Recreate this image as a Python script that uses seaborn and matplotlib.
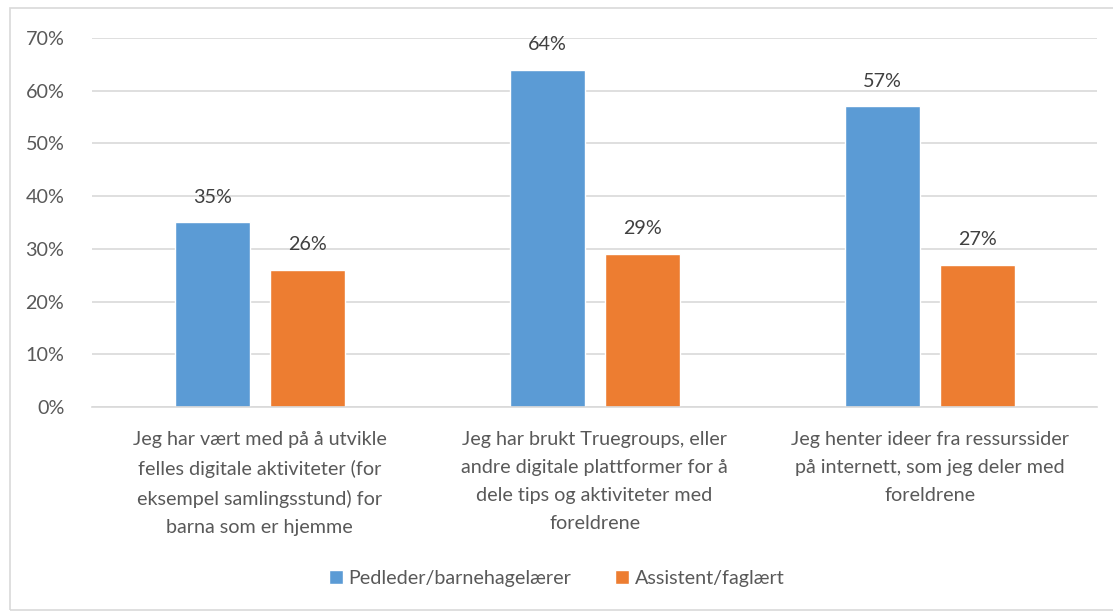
import numpy as np
import pandas as pd
import matplotlib
matplotlib.use("Agg")
import matplotlib.pyplot as plt
import seaborn as sns
from matplotlib.patches import Rectangle

# -----------------------------------
# Data
# -----------------------------------
categories = [
    "Jeg har vært med på å utvikle\nfelles digitale aktiviteter (for\neksempel samlingsstund) for\nbarna som er hjemme",
    "Jeg har brukt Truegroups, eller\nandre digitale plattformer for å\ndele tips og aktiviteter med\nforeldrene",
    "Jeg henter ideer fra ressurssider\npå internett, som jeg deler med\nforeldrene",
]
groups = ["Pedleder/barnehagelærer", "Assistent/faglært"]
pedleder = [0.35, 0.64, 0.57]
assistent = [0.26, 0.29, 0.27]

df = pd.DataFrame({
    "Kategori": categories * 2,
    "Gruppe": [groups[0]] * 3 + [groups[1]] * 3,
    "Andel": pedleder + assistent,
})

sns.set_theme(style="white")
plt.rcParams["font.family"] = ["Lato", "DejaVu Sans"]
grey = "#595959"
fs = 14.2

fig = plt.figure(figsize=(11.13, 6.12), dpi=100)
ax = fig.add_axes([0.0827, 0.335, 0.903, 0.603])

sns.barplot(
    data=df, x="Kategori", y="Andel", hue="Gruppe",
    palette=["#5B9BD5", "#ED7D31"], width=0.567, gap=0.21,
    ax=ax, legend=True, saturation=1,
)

ax.set_ylim(0, 0.7)
ticks = np.arange(0, 0.71, 0.1)
ax.set_yticks(ticks)
ax.set_yticklabels([f"{int(round(v * 100))}%" for v in ticks], fontsize=fs, color=grey)
ax.yaxis.grid(True, color="#D9D9D9", linewidth=1.2)
ax.set_axisbelow(True)
for s in ["top", "right", "left"]:
    ax.spines[s].set_visible(False)
ax.spines["bottom"].set_color("#D9D9D9")
ax.spines["bottom"].set_linewidth(1.2)
ax.tick_params(axis="y", length=0, pad=20)
ax.tick_params(axis="x", length=0, pad=17)
ax.set_xticks(range(len(categories)))
ax.set_xticklabels(categories, fontsize=fs, color=grey, linespacing=1.8)
ax.set_xlabel("")
ax.set_ylabel("")
ax.set_xlim(-0.5, 2.5)

for cont in ax.containers:
    ax.bar_label(cont, labels=[f"{int(round(v * 100))}%" for v in cont.datavalues],
                 padding=12, fontsize=fs, color="#404040")

handles, labels = ax.get_legend_handles_labels()
ax.legend_.remove()
fig.legend(handles, labels, loc="center", bbox_to_anchor=(0.5, 0.055), ncol=2,
           frameon=False, fontsize=fs, labelcolor=grey, handlelength=0.7,
           handleheight=0.7, handletextpad=0.3, columnspacing=2.2)

fig.patches.append(Rectangle((10 / 1113, 2 / 612), 1.2, 602 / 612, transform=fig.transFigure,
                             fill=False, edgecolor="#D9D9D9", linewidth=1.2))

fig.savefig("out.png", dpi=100)
